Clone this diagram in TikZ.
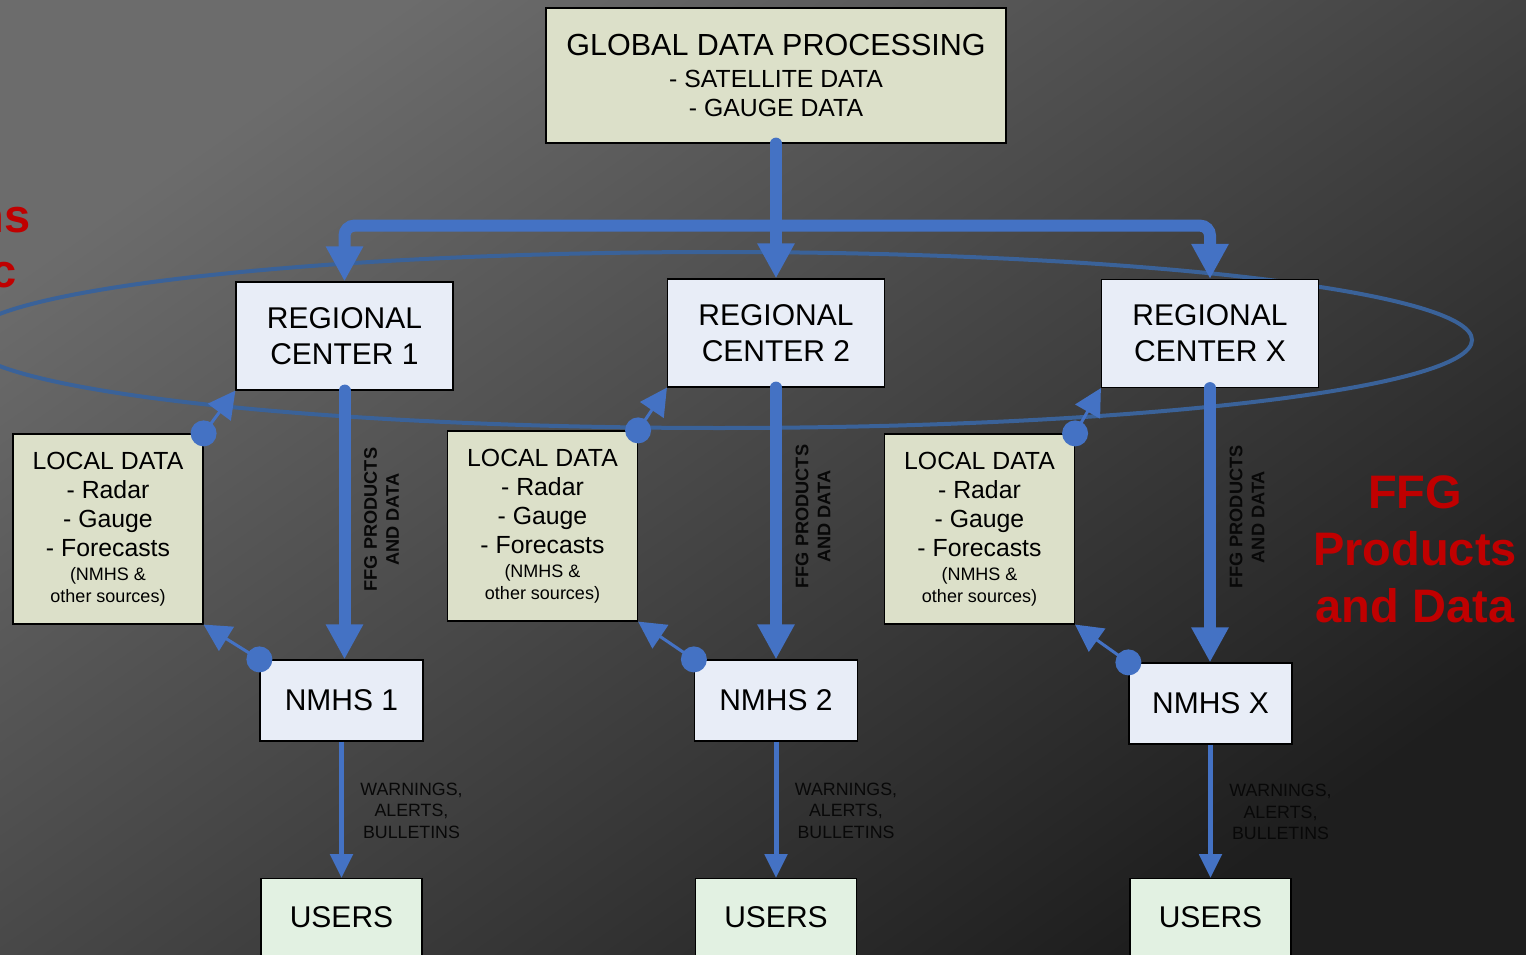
\documentclass[tikz,border=0pt]{standalone}
\usepackage{fontspec}
\setmainfont{Liberation Sans}
\usetikzlibrary{calc,arrows.meta}

% Colours of the slide
\definecolor{boxtan}{RGB}{220,224,201}
\definecolor{boxblue}{RGB}{232,237,247}
\definecolor{boxgreen}{RGB}{226,241,226}
\definecolor{flowblue}{RGB}{68,114,196}
\definecolor{ringblue}{RGB}{58,98,153}
\definecolor{slidered}{RGB}{192,0,0}
\definecolor{labelgray}{RGB}{8,8,8}
\definecolor{bglight}{RGB}{108,108,108}
\definecolor{bgdark}{RGB}{30,30,30}

\tikzset{
  box/.style={draw=black, line width=1.2pt, align=center, inner sep=0pt},
  gdpbox/.style={box, fill=boxtan, minimum width=460pt, minimum height=135pt,
    font=\fontsize{24.8}{29}\selectfont},
  centerbox/.style={box, fill=boxblue, minimum width=217pt, minimum height=108pt,
    font=\fontsize{30}{36}\selectfont},
  localbox/.style={box, fill=boxtan, minimum width=190pt, minimum height=190pt,
    font=\fontsize{24.8}{29}\selectfont},
  nmhsbox/.style={box, fill=boxblue, minimum width=163pt, minimum height=81pt,
    font=\fontsize{30}{36}\selectfont},
  userbox/.style={box, fill=boxgreen, minimum width=161pt, minimum height=78pt,
    font=\fontsize{30}{36}\selectfont},
  bigflow/.style={draw=flowblue, line width=12pt, line cap=round,
    -{Triangle[length=35pt,width=35pt]}},
  smallflow/.style={draw=flowblue, line width=5pt,
    -{Triangle[length=24pt,width=22pt]}},
  feed/.style={draw=flowblue, line width=3pt,
    -{Triangle[length=27pt,width=28pt]}},
  flowlabel/.style={text=labelgray, align=center, inner sep=0pt,
    font=\fontsize{18.2}{22}\selectfont\bfseries},
  warnlabel/.style={text=labelgray, align=center, inner sep=0pt,
    font=\fontsize{17.8}{21.5}\selectfont},
  redtitle/.style={text=slidered, inner sep=0pt,
    font=\fontsize{47}{57}\selectfont\bfseries}
}

\begin{document}
\begin{tikzpicture}[x=1pt,y=-1pt]
  % Slide background
  \clip (0,0) rectangle (1526,955);
  \shade[top color=bglight, bottom color=bgdark, shading angle=35]
    (0,0) rectangle (1526,955);

  % Ring joining the regional centres
  \draw[ringblue, line width=4pt] (719,340) ellipse [x radius=753pt, y radius=88pt];

  % Global data processing
  \node[gdpbox] (gdp) at (776,75.5)
    {{\fontsize{30.5}{32}\selectfont GLOBAL DATA PROCESSING}\\[3pt]
     - SATELLITE DATA\\
     - GAUGE DATA};

  % One column per region: centre, local data, NMHS, users
  \foreach \i/\lab/\rx/\ry/\lx/\ly/\nx/\ny in
    {1/1/344.5/336/108/529/341.5/700.5,
     2/2/776/333/542.5/526/776/700.5,
     3/X/1210/333.5/979.5/529/1210.5/703.5}{
    \node[centerbox] (rc\i) at (\rx,\ry) {REGIONAL\\CENTER \lab};
    \node[localbox] (ld\i) at (\lx,\ly)
      {LOCAL DATA\\- Radar\\- Gauge\\- Forecasts\\[-5pt]
       {\fontsize{18}{22}\selectfont (NMHS \&}\\[-7pt]
       {\fontsize{18}{22}\selectfont other sources)}};
    \node[nmhsbox] (nm\i) at (\nx,\ny) {NMHS \lab};
    \node[userbox, anchor=north] (us\i) at (\nx,878) {USERS};
  }

  % Global products down to the regional centres
  \coordinate (bar) at ($(gdp.south)+(0,82)$);
  \draw[bigflow] (gdp.south) -- (rc2.north);
  \draw[bigflow, rounded corners=10pt] (bar) -| (rc1.north);
  \draw[bigflow, rounded corners=10pt] (bar) -| (rc3.north);

  \foreach \i in {1,2,3}{
    % FFG products from the centre to the NMHS
    \draw[bigflow] (rc\i.south) -- (rc\i.south |- nm\i.north);
    \node[flowlabel, rotate=90] (fl\i) at ($(rc\i.south)+(37,129)$)
      {FFG PRODUCTS\\AND DATA};

    % Warnings from the NMHS to the users
    \draw[smallflow] (nm\i.south) -- (us\i.north);
    \node[warnlabel] (wl\i) at ($(nm\i.south)!0.5!(us\i.north)+(70,1)$)
      {WARNINGS,\\ALERTS,\\BULLETINS};

    % Local data feeds
    \fill[flowblue] (ld\i.north east) circle (13pt);
    \draw[feed] (ld\i.north east) -- (rc\i.south west);
    \fill[flowblue] (nm\i.north west) circle (13pt);
    \draw[feed] (nm\i.north west) -- (ld\i.south east);
  }

  % Red slide titles
  \node[redtitle, anchor=east] (tl1) at (31,220) {ns};
  \node[redtitle, anchor=east] (tl2) at (17,275) {c};
  \node[redtitle, align=center] (ffg) at (1415,549) {FFG\\Products\\and Data};
\end{tikzpicture}
\end{document}
